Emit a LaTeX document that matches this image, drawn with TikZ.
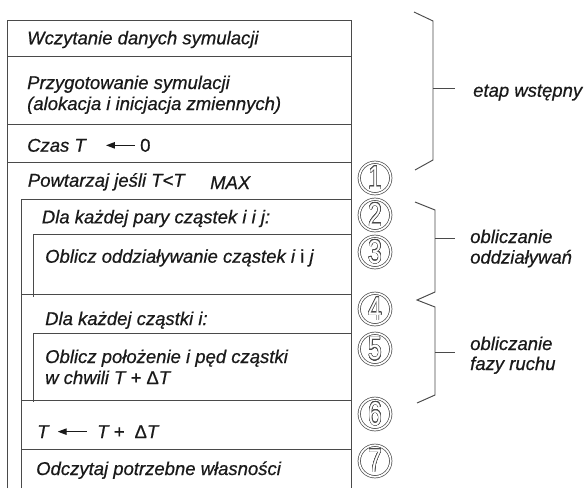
\documentclass[tikz,border=0pt]{standalone}
\usepackage{fontspec}
\setmainfont{Liberation Sans}
\newfontface\lblfont{Liberation Sans Italic}[FakeBold=0.6]
\newfontface\lblup{Liberation Sans}[FakeBold=0.6]
\usepackage{graphicx}
\usepackage[copies]{contour}
\contourlength{0.6pt}
\contournumber{24}
\usetikzlibrary{arrows.meta}

\definecolor{ink}{HTML}{1A1A1A}
\definecolor{rule}{HTML}{4A4A4A}

\newcommand{\ringdigit}[1]{\scalebox{0.74}[1]{\contour{rule}{\textcolor{white}{#1}}}}

\tikzset{
  lbl/.style={anchor=base west, inner sep=0pt, text=ink,
              font=\fontsize{18.5}{21}\lblfont},
  frame/.style={draw=rule, line width=0.95pt},
  brace/.style={draw=rule, line width=0.95pt, line join=miter},
  assign/.style={draw=ink, line width=1pt,
                 {Triangle[length=9pt,width=6.5pt]}-},
  ring/.style={circle, draw=rule, line width=0.7pt, double=white,
               double distance=1.7pt, minimum size=31.5pt, inner sep=0pt,
               font=\fontsize{33}{33}\selectfont},
}

\begin{document}
\begin{tikzpicture}[x=1pt, y=-1pt]
  \useasboundingbox (0,0) rectangle (586,488);
  \fill[white] (0,0) rectangle (586,488);

  % outer structogram frame
  \draw[frame] (7,488) -- (7,20) -- (351,20) -- (351,488);
  \draw[frame] (7,56) -- (351,56);
  \draw[frame] (7,124) -- (351,124);
  \draw[frame] (7,162) -- (351,162);

  % body of the main loop
  \draw[frame] (21,488) -- (21,199) -- (351,199);
  \draw[frame] (33.5,297) -- (33.5,234) -- (351,234);
  \draw[frame] (21,294) -- (351,294);
  \draw[frame] (33.5,402) -- (33.5,333) -- (351,333);
  \draw[frame] (21,400) -- (351,400);
  \draw[frame] (21,449) -- (351,449);

  % block texts
  \node[lbl] (read)  at (27,44.3)  {Wczytanie danych symulacji};
  \node[lbl] (prep1) at (27,89)    {Przygotowanie symulacji};
  \node[lbl] (prep2) at (27,110)   {(alokacja i inicjacja zmiennych)};
  \node[lbl] (czas)  at (27,151.7) {Czas T};
  \node[lbl, font=\fontsize{18.5}{21}\lblup] (zero) at (140,151.7) {0};
  \draw[assign] (czas.east) -- (zero.west)
    [shorten <=20pt, shorten >=5pt];
  \node[lbl] (loop)  at (27.7,186.7) {Powtarzaj jeśli T<T};
  \node[lbl] (tmax)  at (210,189)    {MAX};
  \node[lbl] (pairs) at (41.7,223.3) {Dla każdej pary cząstek i i j:};
  \node[lbl] (force) at (45,262.7)   {Oblicz oddziaływanie cząstek i {\lblup i} j};
  \node[lbl] (each)  at (45,325)     {Dla każdej cząstki i:};
  \node[lbl] (move1) at (45,363)     {Oblicz położenie i pęd cząstki};
  \node[lbl] (move2) at (45,384)     {w chwili T + {\lblup Δ}T};
  \node[lbl] (tl)    at (37,438)     {T};
  \node[lbl] (tr)    at (97,438)     {T +\hspace{0.55em}{\lblup Δ}T};
  \draw[assign] (tl.east) -- (tr.west)
    [shorten <=9pt, shorten >=10pt];
  \node[lbl] (out)   at (36,475)     {Odczytaj potrzebne własności};

  % step numbers
  \node[ring] (s1) at (375,178) {\ringdigit{1}};
  \node[ring] (s2) at (375,215) {\ringdigit{2}};
  \node[ring] (s3) at (375,252) {\ringdigit{3}};
  \node[ring] (s4) at (375,309) {\ringdigit{4}};
  \node[ring] (s5) at (375,349) {\ringdigit{5}};
  \node[ring] (s6) at (375,414) {\ringdigit{6}};
  \node[ring] (s7) at (375,461) {\ringdigit{7}};

  % braces with their phase labels
  \draw[brace] (414,12) -- (433,21) -- (433,160) -- (415,170);
  \draw[brace] (433,88) -- (455,88);
  \draw[brace] (415,202) -- (435,210) -- (435,292) -- (417,300)
               -- (435,307) -- (435,395) -- (417,403);
  \draw[brace] (435,238) -- (455,238);
  \draw[brace] (435,352) -- (455,352);

  \node[lbl] (init)   at (473,96.7)  {etap wstępny};
  \node[lbl] (inter1) at (470,243)   {obliczanie};
  \node[lbl] (inter2) at (470,263.5) {oddziaływań};
  \node[lbl] (phase1) at (470,350)   {obliczanie};
  \node[lbl] (phase2) at (470,370)   {fazy ruchu};
\end{tikzpicture}
\end{document}
